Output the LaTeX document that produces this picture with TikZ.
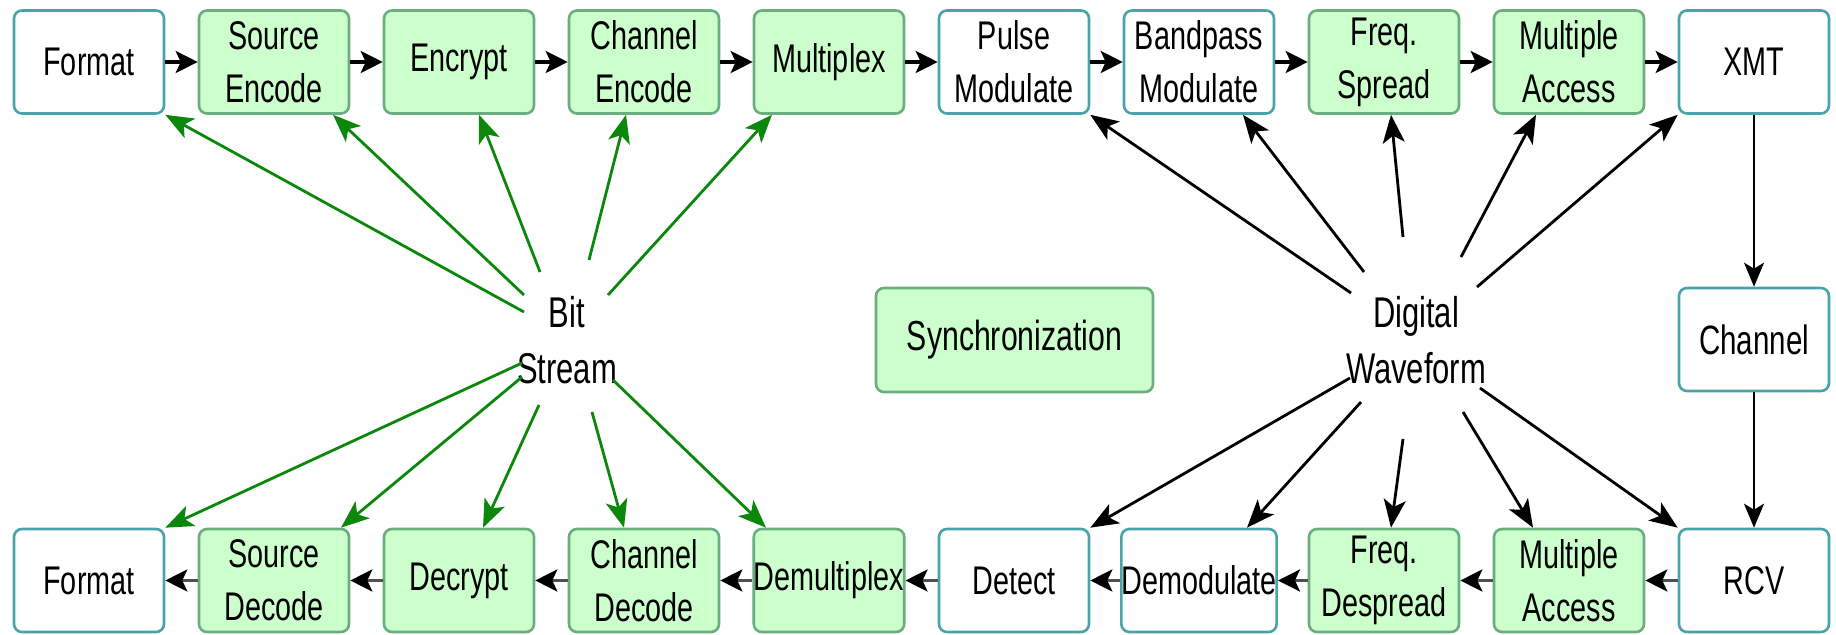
\documentclass[tikz,border=0pt]{standalone}
\usepackage{fontspec}
\setmainfont{Liberation Sans}[FakeStretch=0.72]
\usetikzlibrary{arrows.meta}
\definecolor{boxgreen}{HTML}{CCFFCC}
\definecolor{greenedge}{HTML}{6AAE80}
\definecolor{tealedge}{HTML}{4AA3A8}
\definecolor{linkgreen}{HTML}{0B870B}
\definecolor{rowgrey}{HTML}{505050}

\begin{document}
\begin{tikzpicture}[x=0.5pt,y=-0.5pt,
  base/.style={rounded corners=4pt, line width=1.3pt, minimum width=75pt,
    minimum height=51.5pt, inner sep=0pt, align=center,
    font=\fontsize{20}{26.5}\selectfont},
  greenbox/.style={base, draw=greenedge, fill=boxgreen},
  plainbox/.style={base, draw=tealedge, fill=white},
  biglabel/.style={align=center, inner sep=0pt, font=\fontsize{21.5}{28}\selectfont},
  rowarrow/.style={line width=1.6pt, -{Stealth[length=11pt,width=11pt,inset=2.5pt]}},
  backarrow/.style={line width=1.6pt, draw=rowgrey, -{Stealth[length=11pt,width=11pt,inset=2.5pt,color=black]}},
  downarrow/.style={line width=1.1pt, -{Stealth[length=12pt,width=10pt,inset=3pt]}},
  bitlink/.style={line width=1.4pt, draw=linkgreen, -{Stealth[length=14pt,width=11pt,inset=3.5pt,color=linkgreen]}},
  wavelink/.style={line width=1.4pt, -{Stealth[length=14pt,width=11pt,inset=3.5pt]}}
]
\useasboundingbox (0,0) rectangle (1836,635);

% transmit chain
\node[plainbox] (t1)  at (89,62)   {Format};
\node[greenbox] (t2)  at (274,62)  {Source\\Encode};
\node[greenbox] (t3)  at (459,62)  {Encrypt};
\node[greenbox] (t4)  at (644,62)  {Channel\\Encode};
\node[greenbox] (t5)  at (829,62)  {Multiplex};
\node[plainbox] (t6)  at (1014,62) {Pulse\\Modulate};
\node[plainbox] (t7)  at (1199,62) {Bandpass\\Modulate};
\node[greenbox] (t8)  at (1384,62) {Freq.\\Spread};
\node[greenbox] (t9)  at (1569,62) {Multiple\\Access};
\node[plainbox] (t10) at (1754,62) {XMT};

% receive chain
\node[plainbox] (b1)  at (89,580.5)   {Format};
\node[greenbox] (b2)  at (274,580.5)  {Source\\Decode};
\node[greenbox] (b3)  at (459,580.5)  {Decrypt};
\node[greenbox] (b4)  at (644,580.5)  {Channel\\Decode};
\node[greenbox] (b5)  at (829,580.5)  {Demultiplex};
\node[plainbox] (b6)  at (1014,580.5) {Detect};
\node[plainbox] (b7)  at (1199,580.5) {Demodulate};
\node[greenbox] (b8)  at (1384,580.5) {Freq.\\Despread};
\node[greenbox] (b9)  at (1569,580.5) {Multiple\\Access};
\node[plainbox] (b10) at (1754,580.5) {RCV};

% middle band
\node[plainbox, font=\fontsize{20.5}{28}\selectfont] (ch) at (1754,339.5) {Channel};
\node[greenbox, minimum width=138.5pt, minimum height=52pt,
      font=\fontsize{21}{28}\selectfont] (sync) at (1014.5,340) {Synchronization};
\node[biglabel] (bs) at (567,340)  {Bit\\Stream};
\node[biglabel] (dw) at (1416,340) {Digital\\Waveform};

% forward flow
\foreach \a/\b in {t1/t2,t2/t3,t3/t4,t4/t5,t5/t6,t6/t7,t7/t8,t8/t9,t9/t10}
  \draw[rowarrow] (\a) -- (\b);
\draw[downarrow] (t10) -- (ch);
\draw[downarrow] (ch) -- (b10);
\foreach \a/\b in {b10/b9,b9/b8,b8/b7,b7/b6,b6/b5,b5/b4,b4/b3,b3/b2,b2/b1}
  \draw[backarrow] (\a) -- (\b);

% bit stream links
\draw[bitlink] ([shift={(-43,-28)}]bs.center) -- (t1.south east);
\draw[bitlink] ([shift={(-43,-45)}]bs.center) -- ([shift={(59,0)}]t2.south);
\draw[bitlink] ([shift={(-27,-68)}]bs.center) -- ([shift={(20,0)}]t3.south);
\draw[bitlink] ([shift={(22,-80)}]bs.center)  -- ([shift={(-18,0)}]t4.south);
\draw[bitlink] ([shift={(41,-45)}]bs.center)  -- ([shift={(-57,0)}]t5.south);
\draw[bitlink] ([shift={(-45,23)}]bs.center)  -- (b1.north east);
\draw[bitlink] ([shift={(-45,37)}]bs.center)  -- ([shift={(67,0)}]b2.north);
\draw[bitlink] ([shift={(-28,65)}]bs.center)  -- ([shift={(24,0)}]b3.north);
\draw[bitlink] ([shift={(25,72)}]bs.center)   -- ([shift={(-20,0)}]b4.north);
\draw[bitlink] ([shift={(46,40)}]bs.center)   -- ([shift={(-63,0)}]b5.north);

% digital waveform links
\draw[wavelink] ([shift={(-65,-47)}]dw.center)  -- (t6.south east);
\draw[wavelink] ([shift={(-52,-68)}]dw.center)  -- ([shift={(44,0)}]t7.south);
\draw[wavelink] ([shift={(-13,-103)}]dw.center) -- ([shift={(7,0)}]t8.south);
\draw[wavelink] ([shift={(45,-83)}]dw.center)   -- ([shift={(-33,0)}]t9.south);
\draw[wavelink] ([shift={(61,-53)}]dw.center)   -- (t10.south west);
\draw[wavelink] ([shift={(-66,38)}]dw.center)   -- (b6.north east);
\draw[wavelink] ([shift={(-55,62)}]dw.center)   -- ([shift={(48,0)}]b7.north);
\draw[wavelink] ([shift={(-13,99)}]dw.center)   -- ([shift={(7,0)}]b8.north);
\draw[wavelink] ([shift={(47,72)}]dw.center)    -- ([shift={(-36,0)}]b9.north);
\draw[wavelink] ([shift={(64,48)}]dw.center)    -- (b10.north west);
\end{tikzpicture}
\end{document}
